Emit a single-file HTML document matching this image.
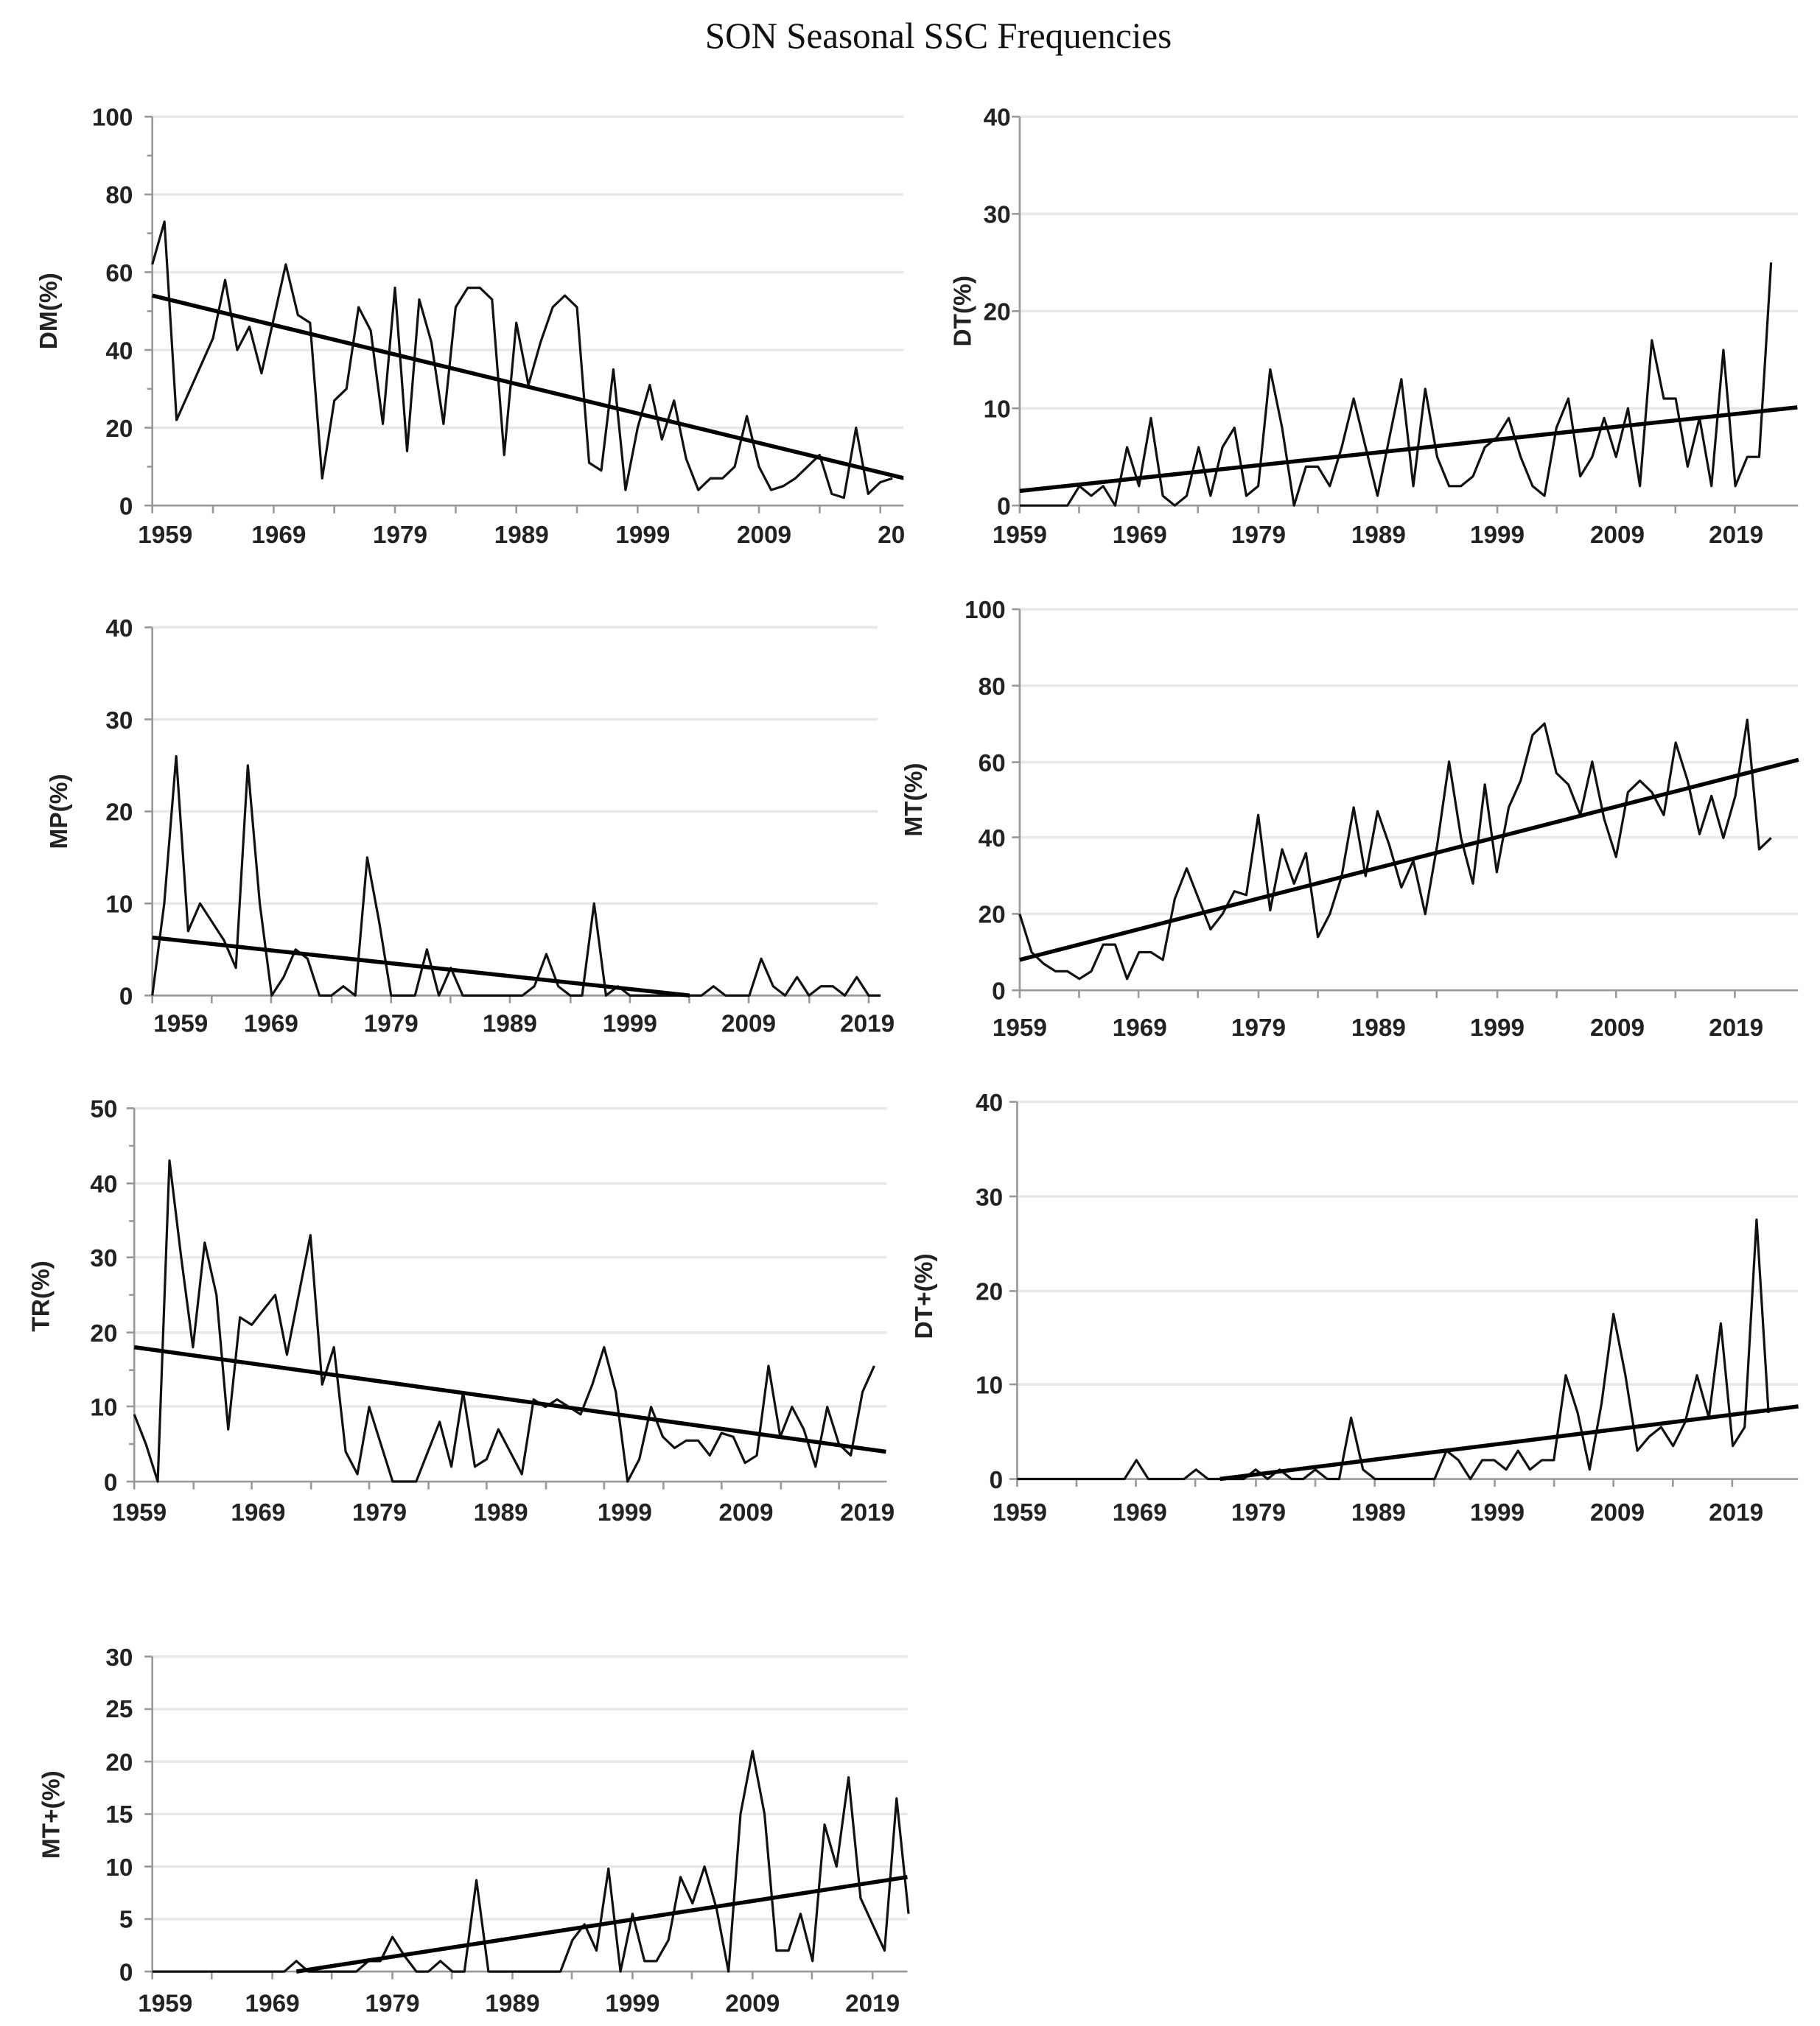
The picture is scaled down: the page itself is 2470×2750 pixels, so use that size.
<!DOCTYPE html>
<html><head><meta charset="utf-8"><style>
html,body{margin:0;padding:0;background:#fff;}
svg{display:block;}
.t{font-family:"Liberation Sans",sans-serif;font-weight:bold;font-size:19px;fill:#222;}
.yl{text-anchor:end;}
.xl{text-anchor:middle;}
.ttl{font-family:"Liberation Serif",serif;font-size:28px;fill:#111;text-anchor:middle;}
.g{stroke:#e8e8e8;stroke-width:2;}
.ax{stroke:#999;stroke-width:1.5;fill:none;}
.s{fill:none;stroke:#111;stroke-width:3.2;vector-effect:non-scaling-stroke;stroke-linejoin:round;}
.tr{fill:none;stroke:#000;stroke-width:5.5;vector-effect:non-scaling-stroke;}
</style></head><body>
<svg width="2470" height="2750" viewBox="0 0 1410 1563" preserveAspectRatio="none" xmlns="http://www.w3.org/2000/svg">
<defs><clipPath id="c1"><rect x="100" y="60" width="600" height="340"/></clipPath></defs>
<text class="ttl" x="727" y="37">SON Seasonal SSC Frequencies</text>

<!-- Panel DM -->
<g class="t">
<line class="g" x1="118" y1="90" x2="700" y2="90"/><line class="g" x1="118" y1="150" x2="700" y2="150"/><line class="g" x1="118" y1="210" x2="700" y2="210"/><line class="g" x1="118" y1="270" x2="700" y2="270"/><line class="g" x1="118" y1="330" x2="700" y2="330"/>
<path class="ax" d="M118,90V390H700 M112,90H118 M112,150H118 M112,210H118 M112,270H118 M112,330H118 M112,390H118 M114,120H118 M114,180H118 M114,240H118 M114,300H118 M114,360H118 M118,390v6 M165,390v6 M212,390v6 M259,390v6 M306,390v6 M353,390v6 M400,390v6 M447,390v6 M494,390v6 M541,390v6 M588,390v6 M635,390v6 M682,390v6"/>
<text class="yl" x="103" y="97">100</text><text class="yl" x="103" y="157">80</text><text class="yl" x="103" y="217">60</text><text class="yl" x="103" y="277">40</text><text class="yl" x="103" y="337">20</text><text class="yl" x="103" y="397">0</text>
<text class="xl" x="128" y="419">1959</text><text class="xl" x="216" y="419">1969</text><text class="xl" x="310" y="419">1979</text><text class="xl" x="404" y="419">1989</text><text class="xl" x="498" y="419">1999</text><text class="xl" x="592" y="419">2009</text><text x="680" y="419">20</text>
<text transform="translate(44,240) rotate(-90)" class="xl">DM(%)</text>
</g>
<g clip-path="url(#c1)"><g transform="translate(118,390) scale(9.4,-3)">
<polyline class="s" points="0,62 1,73 2,22 3,29 4,36 5,43 6,58 7,40 8,46 9,34 10,48 11,62 12,49 13,47 14,7 15,27 16,30 17,51 18,45 19,21 20,56 21,14 22,53 23,42 24,21 25,51 26,56 27,56 28,53 29,13 30,47 31,31 32,42 33,51 34,54 35,51 36,11 37,9 38,35 39,4 40,20 41,31 42,17 43,27 44,12 45,4 46,7 47,7 48,10 49,23 50,10 51,4 52,5 53,7 54,10 55,13 56,3 57,2 58,20 59,3 60,6 61,7"/>
<line class="tr" x1="0" y1="54" x2="62" y2="7"/></g></g>

<!-- Panel DT -->
<g class="t">
<line class="g" x1="790" y1="90" x2="1393" y2="90"/><line class="g" x1="790" y1="165" x2="1393" y2="165"/><line class="g" x1="790" y1="240" x2="1393" y2="240"/><line class="g" x1="790" y1="315" x2="1393" y2="315"/>
<path class="ax" d="M790,90V390H1393 M784,90H790 M784,165H790 M784,240H790 M784,315H790 M784,390H790 M790,390v6 M836,390v6 M882,390v6 M928,390v6 M975,390v6 M1021,390v6 M1067,390v6 M1113,390v6 M1160,390v6 M1206,390v6 M1252,390v6 M1298,390v6 M1344,390v6"/>
<text class="yl" x="783" y="97">40</text><text class="yl" x="783" y="172">30</text><text class="yl" x="783" y="247">20</text><text class="yl" x="783" y="322">10</text><text class="yl" x="783" y="397">0</text>
<text class="xl" x="790" y="419">1959</text><text class="xl" x="883" y="419">1969</text><text class="xl" x="975" y="419">1979</text><text class="xl" x="1068" y="419">1989</text><text class="xl" x="1160" y="419">1999</text><text class="xl" x="1253" y="419">2009</text><text class="xl" x="1345" y="419">2019</text>
<text transform="translate(752,240) rotate(-90)" class="xl">DT(%)</text>
</g>
<g transform="translate(790,390) scale(9.24,-7.5)">
<polyline class="s" points="0,0 1,0 2,0 3,0 4,0 5,2 6,1 7,2 8,0 9,6 10,2 11,9 12,1 13,0 14,1 15,6 16,1 17,6 18,8 19,1 20,2 21,14 22,8 23,0 24,4 25,4 26,2 27,6 28,11 29,6 30,1 31,7 32,13 33,2 34,12 35,5 36,2 37,2 38,3 39,6 40,7 41,9 42,5 43,2 44,1 45,8 46,11 47,3 48,5 49,9 50,5 51,10 52,2 53,17 54,11 55,11 56,4 57,9 58,2 59,16 60,2 61,5 62,5 63,25"/>
<line class="tr" x1="0" y1="1.5" x2="65.2" y2="10.1"/></g>

<!-- Panel MP -->
<g class="t">
<line class="g" x1="118" y1="484" x2="680" y2="484"/><line class="g" x1="118" y1="555" x2="680" y2="555"/><line class="g" x1="118" y1="626" x2="680" y2="626"/><line class="g" x1="118" y1="697" x2="680" y2="697"/>
<path class="ax" d="M118,484V768H680 M112,484H118 M112,555H118 M112,626H118 M112,697H118 M112,768H118 M118,768v6 M164,768v6 M210,768v6 M257,768v6 M303,768v6 M349,768v6 M395,768v6 M442,768v6 M488,768v6 M534,768v6 M580,768v6 M627,768v6 M673,768v6"/>
<text class="yl" x="103" y="491">40</text><text class="yl" x="103" y="562">30</text><text class="yl" x="103" y="633">20</text><text class="yl" x="103" y="704">10</text><text class="yl" x="103" y="775">0</text>
<text class="xl" x="140" y="796">1959</text><text class="xl" x="210" y="796">1969</text><text class="xl" x="303" y="796">1979</text><text class="xl" x="395" y="796">1989</text><text class="xl" x="488" y="796">1999</text><text class="xl" x="580" y="796">2009</text><text class="xl" x="672" y="796">2019</text>
<text transform="translate(52,626) rotate(-90)" class="xl">MP(%)</text>
</g>
<g transform="translate(118,768) scale(9.25,-7.1)">
<polyline class="s" points="0,0 1,10 2,26 3,7 4,10 5,8 6,6 7,3 8,25 9,10 10,0 11,2 12,5 13,4 14,0 15,0 16,1 17,0 18,15 19,8 20,0 21,0 22,0 23,5 24,0 25,3 26,0 27,0 28,0 29,0 30,0 31,0 32,1 33,4.5 34,1 35,0 36,0 37,10 38,0 39,1 40,0 41,0 42,0 43,0 44,0 45,0 46,0 47,1 48,0 49,0 50,0 51,4 52,1 53,0 54,2 55,0 56,1 57,1 58,0 59,2 60,0 61,0"/>
<line class="tr" x1="0" y1="6.3" x2="45" y2="0"/></g>

<!-- Panel MT -->
<g class="t">
<line class="g" x1="790" y1="470" x2="1393" y2="470"/><line class="g" x1="790" y1="529" x2="1393" y2="529"/><line class="g" x1="790" y1="588" x2="1393" y2="588"/><line class="g" x1="790" y1="646" x2="1393" y2="646"/><line class="g" x1="790" y1="705" x2="1393" y2="705"/>
<path class="ax" d="M790,470V764H1393 M784,470H790 M784,529H790 M784,588H790 M784,646H790 M784,705H790 M784,764H790 M790,764v6 M836,764v6 M882,764v6 M928,764v6 M975,764v6 M1021,764v6 M1067,764v6 M1113,764v6 M1160,764v6 M1206,764v6 M1252,764v6 M1298,764v6 M1344,764v6"/>
<text class="yl" x="779" y="477">100</text><text class="yl" x="779" y="536">80</text><text class="yl" x="779" y="595">60</text><text class="yl" x="779" y="653">40</text><text class="yl" x="779" y="712">20</text><text class="yl" x="779" y="771">0</text>
<text class="xl" x="790" y="799">1959</text><text class="xl" x="883" y="799">1969</text><text class="xl" x="975" y="799">1979</text><text class="xl" x="1068" y="799">1989</text><text class="xl" x="1160" y="799">1999</text><text class="xl" x="1253" y="799">2009</text><text class="xl" x="1345" y="799">2019</text>
<text transform="translate(714,617) rotate(-90)" class="xl">MT(%)</text>
</g>
<g transform="translate(790,764) scale(9.24,-2.94)">
<polyline class="s" points="0,20 1,10 2,7 3,5 4,5 5,3 6,5 7,12 8,12 9,3 10,10 11,10 12,8 13,24 14,32 15,24 16,16 17,20 18,26 19,25 20,46 21,21 22,37 23,28 24,36 25,14 26,20 27,30 28,48 29,30 30,47 31,38 32,27 33,34 34,20 35,38 36,60 37,40 38,28 39,54 40,31 41,48 42,55 43,67 44,70 45,57 46,54 47,46 48,60 49,45 50,35 51,52 52,55 53,52 54,46 55,65 56,55 57,41 58,51 59,40 60,51 61,71 62,37 63,40"/>
<line class="tr" x1="0" y1="8" x2="65.3" y2="60.5"/></g>

<!-- Panel TR -->
<g class="t">
<line class="g" x1="104" y1="855" x2="687" y2="855"/><line class="g" x1="104" y1="913" x2="687" y2="913"/><line class="g" x1="104" y1="970" x2="687" y2="970"/><line class="g" x1="104" y1="1028" x2="687" y2="1028"/><line class="g" x1="104" y1="1085" x2="687" y2="1085"/>
<path class="ax" d="M104,855V1143H687 M98,855H104 M98,913H104 M98,970H104 M98,1028H104 M98,1085H104 M98,1143H104 M100,884H104 M100,942H104 M100,999H104 M100,1057H104 M100,1114H104 M104,1143v6 M150,1143v6 M195,1143v6 M241,1143v6 M286,1143v6 M332,1143v6 M377,1143v6 M423,1143v6 M468,1143v6 M514,1143v6 M559,1143v6 M605,1143v6 M650,1143v6"/>
<text class="yl" x="91" y="862">50</text><text class="yl" x="91" y="920">40</text><text class="yl" x="91" y="977">30</text><text class="yl" x="91" y="1035">20</text><text class="yl" x="91" y="1092">10</text><text class="yl" x="91" y="1150">0</text>
<text class="xl" x="108" y="1173">1959</text><text class="xl" x="200" y="1173">1969</text><text class="xl" x="294" y="1173">1979</text><text class="xl" x="388" y="1173">1989</text><text class="xl" x="484" y="1173">1999</text><text class="xl" x="578" y="1173">2009</text><text class="xl" x="672" y="1173">2019</text>
<text transform="translate(38,1000) rotate(-90)" class="xl">TR(%)</text>
</g>
<g transform="translate(104,1143) scale(9.1,-5.76)">
<polyline class="s" points="0,9 1,5 2,0 3,43 4,30 5,18 6,32 7,25 8,7 9,22 10,21 11,23 12,25 13,17 14,25 15,33 16,13 17,18 18,4 19,1 20,10 21,5 22,0 23,0 24,0 25,4 26,8 27,2 28,12 29,2 30,3 31,7 32,4 33,1 34,11 35,10 36,11 37,10 38,9 39,13 40,18 41,12 42,0 43,3 44,10 45,6 46,4.5 47,5.5 48,5.5 49,3.5 50,6.5 51,6 52,2.5 53,3.5 54,15.5 55,6 56,10 57,7 58,2 59,10 60,5 61,3.5 62,12 63,15.5"/>
<line class="tr" x1="0" y1="18" x2="64" y2="4"/></g>

<!-- Panel DT+ -->
<g class="t">
<line class="g" x1="788" y1="850" x2="1393" y2="850"/><line class="g" x1="788" y1="923" x2="1393" y2="923"/><line class="g" x1="788" y1="996" x2="1393" y2="996"/><line class="g" x1="788" y1="1068" x2="1393" y2="1068"/>
<path class="ax" d="M788,850V1141H1393 M782,850H788 M782,923H788 M782,996H788 M782,1068H788 M782,1141H788 M788,1141v6 M834,1141v6 M880,1141v6 M926,1141v6 M973,1141v6 M1019,1141v6 M1065,1141v6 M1111,1141v6 M1158,1141v6 M1204,1141v6 M1250,1141v6 M1296,1141v6 M1342,1141v6"/>
<text class="yl" x="777" y="857">40</text><text class="yl" x="777" y="930">30</text><text class="yl" x="777" y="1003">20</text><text class="yl" x="777" y="1075">10</text><text class="yl" x="777" y="1148">0</text>
<text class="xl" x="790" y="1173">1959</text><text class="xl" x="883" y="1173">1969</text><text class="xl" x="975" y="1173">1979</text><text class="xl" x="1068" y="1173">1989</text><text class="xl" x="1160" y="1173">1999</text><text class="xl" x="1253" y="1173">2009</text><text class="xl" x="1345" y="1173">2019</text>
<text transform="translate(722,1000) rotate(-90)" class="xl">DT+(%)</text>
</g>
<g transform="translate(788,1141) scale(9.24,-7.275)">
<polyline class="s" points="0,0 1,0 2,0 3,0 4,0 5,0 6,0 7,0 8,0 9,0 10,2 11,0 12,0 13,0 14,0 15,1 16,0 17,0 18,0 19,0 20,1 21,0 22,1 23,0 24,0 25,1 26,0 27,0 28,6.5 29,1 30,0 31,0 32,0 33,0 34,0 35,0 36,3 37,2 38,0 39,2 40,2 41,1 42,3 43,1 44,2 45,2 46,11 47,7 48,1 49,8 50,17.5 51,11 52,3 53,4.5 54,5.5 55,3.5 56,6 57,11 58,6.5 59,16.5 60,3.5 61,5.5 62,27.5 63,7"/>
<line class="tr" x1="17" y1="0" x2="65.5" y2="7.7"/></g>

<!-- Panel MT+ -->
<g class="t">
<line class="g" x1="118" y1="1278" x2="703" y2="1278"/><line class="g" x1="118" y1="1318.5" x2="703" y2="1318.5"/><line class="g" x1="118" y1="1359" x2="703" y2="1359"/><line class="g" x1="118" y1="1399.5" x2="703" y2="1399.5"/><line class="g" x1="118" y1="1440" x2="703" y2="1440"/><line class="g" x1="118" y1="1480.5" x2="703" y2="1480.5"/>
<path class="ax" d="M118,1278V1521H703 M112,1278H118 M112,1318.5H118 M112,1359H118 M112,1399.5H118 M112,1440H118 M112,1480.5H118 M112,1521H118 M118,1521v6 M164,1521v6 M211,1521v6 M257,1521v6 M304,1521v6 M350,1521v6 M397,1521v6 M443,1521v6 M490,1521v6 M536,1521v6 M583,1521v6 M629,1521v6 M676,1521v6"/>
<text class="yl" x="103" y="1285">30</text><text class="yl" x="103" y="1325">25</text><text class="yl" x="103" y="1366">20</text><text class="yl" x="103" y="1406">15</text><text class="yl" x="103" y="1447">10</text><text class="yl" x="103" y="1487">5</text><text class="yl" x="103" y="1528">0</text>
<text class="xl" x="128" y="1552">1959</text><text class="xl" x="211" y="1552">1969</text><text class="xl" x="304" y="1552">1979</text><text class="xl" x="397" y="1552">1989</text><text class="xl" x="490" y="1552">1999</text><text class="xl" x="583" y="1552">2009</text><text class="xl" x="676" y="1552">2019</text>
<text transform="translate(46,1400) rotate(-90)" class="xl">MT+(%)</text>
</g>
<g transform="translate(118,1521) scale(9.3,-8.1)">
<polyline class="s" points="0,0 1,0 2,0 3,0 4,0 5,0 6,0 7,0 8,0 9,0 10,0 11,0 12,1 13,0 14,0 15,0 16,0 17,0 18,1 19,1 20,3.3 21,1.5 22,0 23,0 24,1 25,0 26,0 27,8.7 28,0 29,0 30,0 31,0 32,0 33,0 34,0 35,3 36,4.5 37,2 38,9.8 39,0 40,5.5 41,1 42,1 43,3 44,9 45,6.5 46,10 47,6 48,0 49,15 50,21 51,15 52,2 53,2 54,5.5 55,1 56,14 57,10 58,18.5 59,7 60,4.5 61,2 62,16.5 63,5.5"/>
<line class="tr" x1="12" y1="0" x2="62.9" y2="9"/></g>
</svg>
</body></html>
